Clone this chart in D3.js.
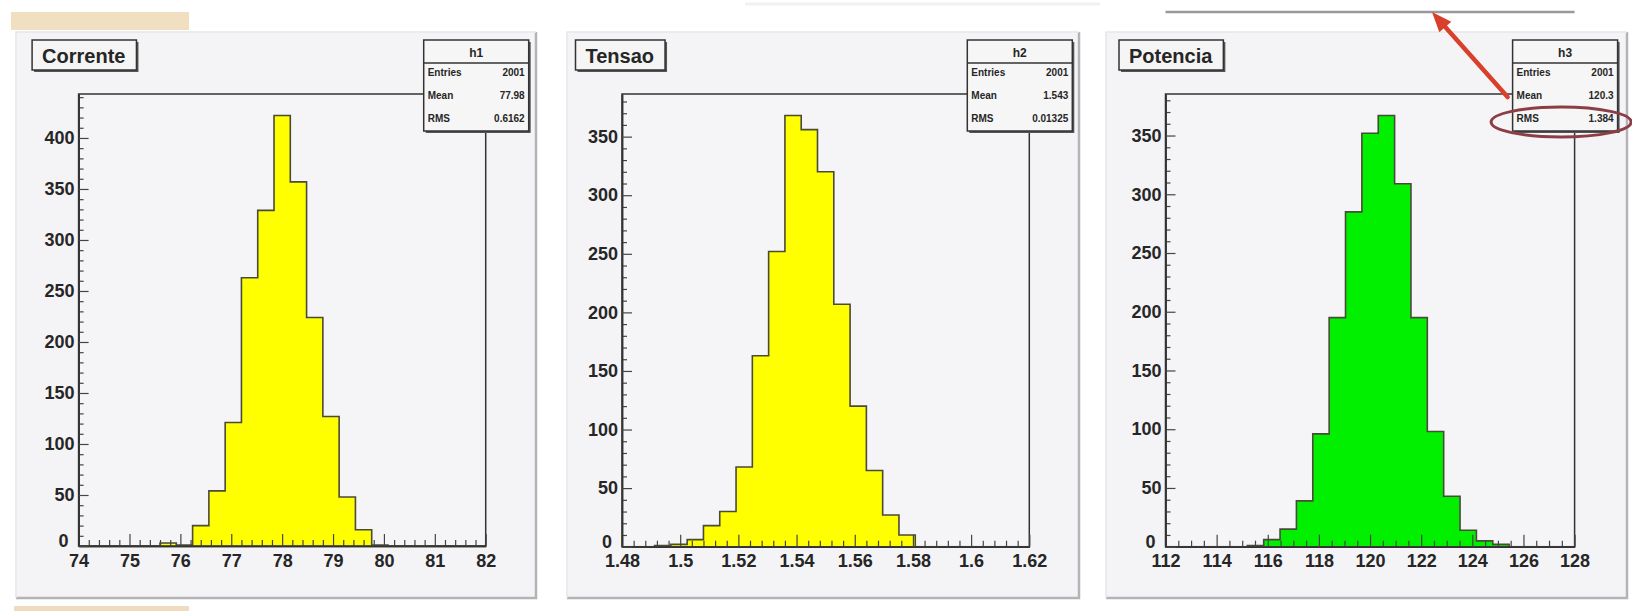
<!DOCTYPE html>
<html>
<head>
<meta charset="utf-8">
<script src="https://cdn.jsdelivr.net/npm/d3@7"></script>
<style>
  html, body { margin: 0; padding: 0; background: #ffffff; }
  svg { display: block; font-family: "Liberation Sans", Arial, Helvetica, sans-serif; }
</style>
</head>
<body>
<svg id="chart" width="1632" height="611"></svg>
<script>
// ---- Histogram contents: 25 equal-width bins each ----
const correnteCounts = [0,0,0,0,0,3,1,20,54,121,263,329,422,357,224,127,48,16,1,0,0,0,0,0,0];
const tensaoCounts   = [0,0,1,2,6,18,30,68,163,252,368,356,320,207,120,65,27,10,0,0,0,0,0,0,0];
const potenciaCounts = [0,0,0,0,0,1,6,15,39,96,195,285,352,367,309,195,98,43,14,5,2,0,0,0,0];

const correnteRange = [74, 82];
const tensaoRange   = [1.48, 1.62];
const potenciaRange = [112, 128];

// ---- Titles and statistics boxes ----
const titles    = ["Corrente", "Tensao", "Potencia"];
const histNames = ["h1", "h2", "h3"];
const entries   = ["2001", "2001", "2001"];
const means     = ["77.98", "1.543", "120.3"];
const rmsValues = ["0.6162", "0.01325", "1.384"];

// ---- Tick labels ----
const correnteXTicks = ["74","75","76","77","78","79","80","81","82"];
const tensaoXTicks   = ["1.48","1.5","1.52","1.54","1.56","1.58","1.6","1.62"];
const potenciaXTicks = ["112","114","116","118","120","122","124","126","128"];
const correnteYTicks = ["0","50","100","150","200","250","300","350","400"];
const tensaoYTicks   = ["0","50","100","150","200","250","300","350"];
const potenciaYTicks = ["0","50","100","150","200","250","300","350"];

// ---- Panel layout (pixel geometry and styling) ----
const panels = [
  { counts: correnteCounts, range: correnteRange, xTicks: correnteXTicks, yTicks: correnteYTicks,
    minorX: 0.2, fill: "#ffff00", frame: { left: 78.6, right: 485.7, top: 94, bottom: 546 },
    pad: { left: 16, right: 536 } },
  { counts: tensaoCounts, range: tensaoRange, xTicks: tensaoXTicks, yTicks: tensaoYTicks,
    minorX: 0.004, fill: "#ffff00", frame: { left: 622, right: 1029.3, top: 94, bottom: 546.7 },
    pad: { left: 567, right: 1079 } },
  { counts: potenciaCounts, range: potenciaRange, xTicks: potenciaXTicks, yTicks: potenciaYTicks,
    minorX: 0.5, fill: "#00f000", frame: { left: 1165.5, right: 1574.6, top: 94, bottom: 546.7 },
    pad: { left: 1106, right: 1627 } }
];

const svg = d3.select("#chart");
const ink = "#262626";

// Faded slide decorations
svg.append("rect").attr("x", 11).attr("y", 12).attr("width", 178).attr("height", 18).attr("fill", "#f1dfc2");
svg.append("rect").attr("x", 14).attr("y", 606).attr("width", 175).attr("height", 5).attr("fill", "#efdcc0");
svg.append("line").attr("x1", 745).attr("x2", 1100).attr("y1", 4).attr("y2", 4)
  .attr("stroke", "#f1f1f1").attr("stroke-width", 3);

panels.forEach((p, i) => {
  const f = p.frame;
  const g = svg.append("g");

  // Pad background with raised border
  const padTop = 32, padBottom = 598;
  g.append("rect").attr("x", p.pad.left).attr("y", padTop)
    .attr("width", p.pad.right - p.pad.left).attr("height", padBottom - padTop)
    .attr("fill", "#f4f4f6");
  g.append("path")
    .attr("d", `M${p.pad.left},${padBottom} L${p.pad.right},${padBottom} L${p.pad.right},${padTop}`)
    .attr("fill", "none").attr("stroke", "#b4b4b8").attr("stroke-width", 2.5);
  g.append("path")
    .attr("d", `M${p.pad.left},${padBottom} L${p.pad.left},${padTop} L${p.pad.right},${padTop}`)
    .attr("fill", "none").attr("stroke", "#e6e6ea").attr("stroke-width", 1.5);

  // Scales
  const n = p.counts.length;
  const x = d3.scaleLinear().domain(p.range).range([f.left, f.right]);
  const y = d3.scaleLinear().domain([0, 1.05 * d3.max(p.counts)]).range([f.bottom, f.top]);

  // Frame
  g.append("rect").attr("x", f.left).attr("y", f.top)
    .attr("width", f.right - f.left).attr("height", f.bottom - f.top)
    .attr("fill", "#f5f5f7").attr("stroke", "#333").attr("stroke-width", 1.5);

  // Histogram as a stepped area
  const w = (p.range[1] - p.range[0]) / n;
  const pts = p.counts.map((c, k) => [p.range[0] + k * w, c]);
  pts.push([p.range[1], p.counts[n - 1]]);
  const area = d3.area().curve(d3.curveStepAfter)
    .x(d => x(d[0])).y0(y(0)).y1(d => y(d[1]));
  g.append("path").datum(pts).attr("d", area)
    .attr("fill", p.fill).attr("stroke", "#4a4a3a").attr("stroke-width", 1.6)
    .attr("stroke-linejoin", "miter");

  // Axes: ticks point into the frame
  const xMajor = p.xTicks.map(Number);
  const yMajor = p.yTicks.map(Number);
  const xMinor = d3.range(p.range[0], p.range[1] + p.minorX / 2, p.minorX)
    .filter(v => !xMajor.some(m => Math.abs(m - v) < p.minorX / 10));
  const yMinor = d3.range(0, y.domain()[1], 10).filter(v => v % 50 !== 0);

  const xAxisMinor = d3.axisBottom(x).tickValues(xMinor).tickSize(-6).tickSizeOuter(0).tickFormat("");
  const xAxis = d3.axisBottom(x).tickValues(xMajor).tickSize(-12).tickSizeOuter(0).tickPadding(8)
    .tickFormat((d, j) => p.xTicks[j]);
  const yAxisMinor = d3.axisLeft(y).tickValues(yMinor).tickSize(-5).tickSizeOuter(0).tickFormat("");
  const yAxis = d3.axisLeft(y).tickValues(yMajor).tickSize(-10).tickSizeOuter(0).tickPadding(4)
    .tickFormat((d, j) => p.yTicks[j]);

  [xAxisMinor, xAxis].forEach(ax => {
    g.append("g").attr("transform", `translate(0,${f.bottom})`).call(ax);
  });
  let yAxisG;
  [yAxisMinor, yAxis].forEach(ax => {
    yAxisG = g.append("g").attr("transform", `translate(${f.left},0)`).call(ax);
  });
  g.selectAll(".domain").attr("stroke", "#333").attr("stroke-width", 1.5);
  g.selectAll(".tick line").attr("stroke", "#444").attr("stroke-width", 1.2);
  g.selectAll(".tick text").attr("font-size", 18).attr("font-weight", "bold")
    .attr("fill", ink).attr("font-family", "'Liberation Sans', Arial, sans-serif");
  // The zero label sits at the corner: nudge it up and left so it clears the first x label
  yAxisG.selectAll(".tick text").filter(d => d === 0).attr("x", -10).attr("dy", "0.02em");

  // Title box
  const tX = f.left - 46.5, tY = 40, tH = 30;
  const titleText = g.append("text").attr("x", tX + 10).attr("y", tY + 23)
    .attr("font-size", 20).attr("font-weight", "bold").attr("fill", ink).text(titles[i]);
  const tW = titleText.node().getComputedTextLength() + 21;
  g.insert("rect", () => titleText.node()).attr("x", tX + 2).attr("y", tY + 2)
    .attr("width", tW).attr("height", tH).attr("fill", "#555");
  g.insert("rect", () => titleText.node()).attr("x", tX).attr("y", tY)
    .attr("width", tW).attr("height", tH).attr("fill", "#f5f5f5")
    .attr("stroke", "#333").attr("stroke-width", 1.5);

  // Statistics box
  const bW = 105, bX = f.right + 43 - bW, bY = 40, bH = 91, hdr = 23;
  g.append("rect").attr("x", bX + 2).attr("y", bY + 2).attr("width", bW).attr("height", bH).attr("fill", "#555");
  g.append("rect").attr("x", bX).attr("y", bY).attr("width", bW).attr("height", bH)
    .attr("fill", "#f6f6f6").attr("stroke", "#333").attr("stroke-width", 1.5);
  g.append("line").attr("x1", bX).attr("x2", bX + bW).attr("y1", bY + hdr).attr("y2", bY + hdr)
    .attr("stroke", "#333").attr("stroke-width", 1.5);
  g.append("text").attr("x", bX + bW / 2).attr("y", bY + 17).attr("text-anchor", "middle")
    .attr("font-size", 12).attr("font-weight", "bold").attr("fill", ink).text(histNames[i]);
  const rows = [["Entries", entries[i]], ["Mean", means[i]], ["RMS", rmsValues[i]]];
  rows.forEach((r, j) => {
    const ry = bY + 36 + j * 23;
    g.append("text").attr("x", bX + 4).attr("y", ry).attr("font-size", 10).attr("font-weight", "bold")
      .attr("fill", ink).text(r[0]);
    g.append("text").attr("x", bX + bW - 4).attr("y", ry).attr("text-anchor", "end")
      .attr("font-size", 10).attr("font-weight", "bold").attr("fill", ink).text(r[1]);
  });
  p.statsBox = { x: bX, y: bY, w: bW, h: bH };
});

// Highlight on the last statistics box: banner line, arrow and ellipse around RMS
const last = panels[2];
svg.append("line").attr("x1", last.frame.left).attr("x2", last.frame.right).attr("y1", 12).attr("y2", 12)
  .attr("stroke", "#9a9a9a").attr("stroke-width", 2.5);

const sb = last.statsBox;
const tail = [sb.x - 5, 97], tip = [1432, 12];
const ang = Math.atan2(tip[1] - tail[1], tip[0] - tail[0]);
const headLen = 20, headW = 8;
const base = [tip[0] - headLen * Math.cos(ang), tip[1] - headLen * Math.sin(ang)];
svg.append("line").attr("x1", tail[0]).attr("y1", tail[1]).attr("x2", base[0]).attr("y2", base[1])
  .attr("stroke", "#d8402c").attr("stroke-width", 4.5).attr("stroke-linecap", "round");
svg.append("path")
  .attr("d", `M${tip[0]},${tip[1]} L${base[0] + headW * Math.sin(ang)},${base[1] - headW * Math.cos(ang)} L${base[0] - headW * Math.sin(ang)},${base[1] + headW * Math.cos(ang)} Z`)
  .attr("fill", "#d8402c");
svg.append("ellipse").attr("cx", sb.x + sb.w / 2 - 4).attr("cy", 122).attr("rx", 70).attr("ry", 15)
  .attr("fill", "none").attr("stroke", "#8c3e46").attr("stroke-width", 3);
</script>
</body>
</html>
